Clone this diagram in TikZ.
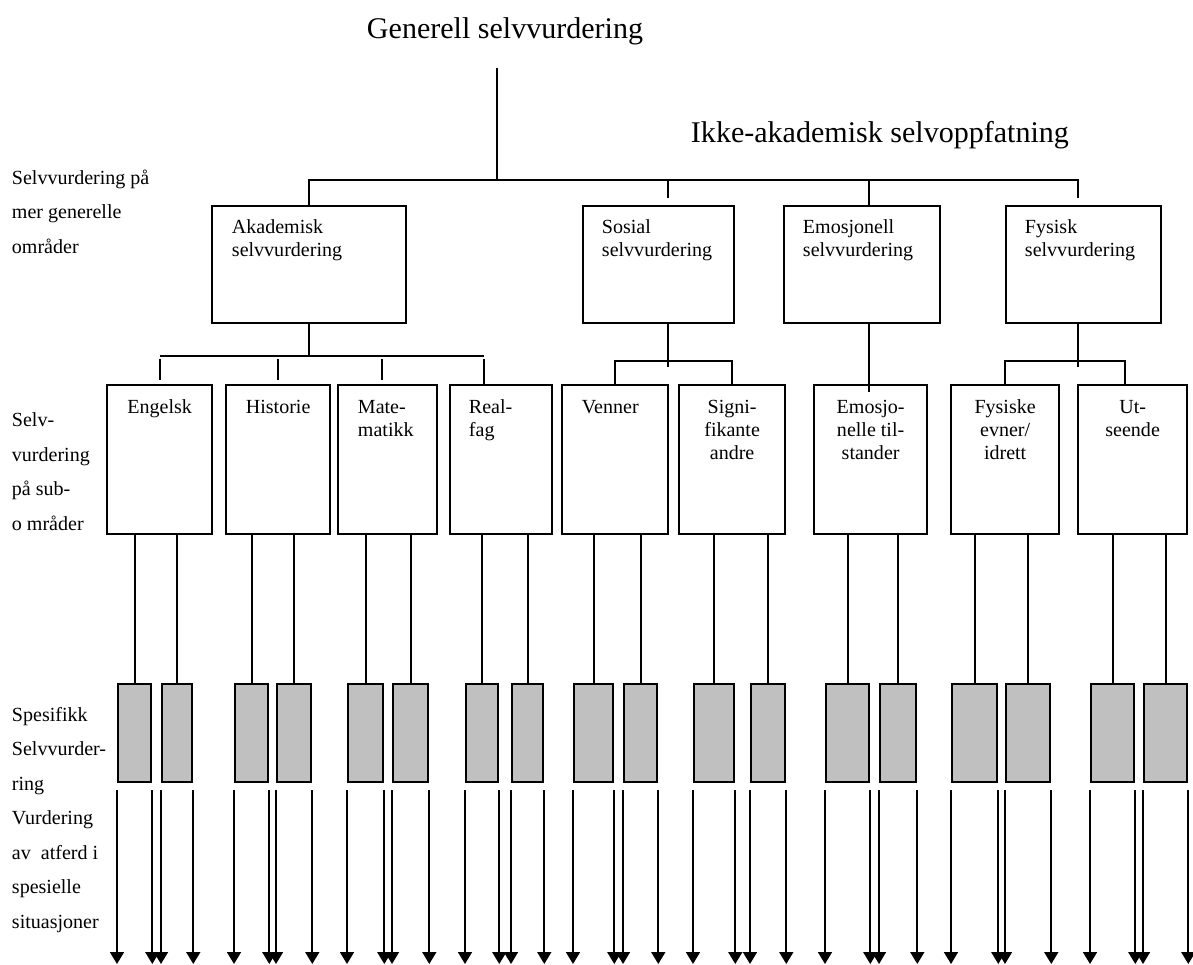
\documentclass[tikz,border=0pt]{standalone}
\usepackage{fontspec}
\setmainfont{Liberation Serif}
\usetikzlibrary{arrows.meta}
\definecolor{cgrey}{HTML}{C0C0C0}
\tikzset{
  every picture/.style={line width=1.1pt},
  box/.style={draw, line width=1.3pt, inner sep=0pt, anchor=north west},
  mainbox/.style={box, minimum height=2.34cm},
  subbox/.style={box, minimum height=2.98cm},
  specbox/.style={box, fill=cgrey, minimum height=1.96cm},
  intxt/.style={font=\fontsize{11.4pt}{13.3pt}\selectfont, inner sep=0pt, align=left, anchor=base west},
  midtxt/.style={intxt, align=center, anchor=base},
  side/.style={font=\fontsize{11.4pt}{19.6pt}\selectfont, inner sep=0pt, align=left, anchor=base west},
  title/.style={font=\fontsize{17.1pt}{20pt}\selectfont, inner sep=0pt, anchor=base west},
  arrow/.style={-{Triangle[width=0.28cm, length=0.24cm]}, line width=1pt},
}
\begin{document}
\begin{tikzpicture}[x=0.02cm, y=-0.02cm]
  \useasboundingbox (0,0) rectangle (1193,964);
  \node[title] (gen) at (366,38) {Generell selvvurdering};
  \node[title] (ikke) at (690,142) {Ikke-akademisk selvoppfatning};
  % labels on the left (placed at the last baseline)
  \node[side] (lab1) at (11,253) {Selvvurdering på\\mer generelle\\områder};
  \node[side] (lab2) at (11,530) {Selv-\\vurdering\\på sub-\\o mråder};
  \node[side] (lab3) at (11,928) {Spesifikk\\Selvvurder-\\ring\\Vurdering\\av\ \ atferd i\\spesielle\\situasjoner};
  % general areas
  \node[mainbox, minimum width=3.88cm] (aka) at (211,205) {};
  \node[mainbox, minimum width=3.02cm] (sos) at (582,205) {};
  \node[mainbox, minimum width=3.12cm] (emo) at (783,205) {};
  \node[mainbox, minimum width=3.10cm] (fys) at (1005,205) {};
  \node[intxt] (aka-t) at ([xshift=0.4cm, yshift=-1.04cm]aka.north west) {Akademisk\\selvvurdering};
  \node[intxt] (sos-t) at ([xshift=0.38cm, yshift=-1.04cm]sos.north west) {Sosial\\selvvurdering};
  \node[intxt] (emo-t) at ([xshift=0.38cm, yshift=-1.04cm]emo.north west) {Emosjonell\\selvvurdering};
  \node[intxt] (fys-t) at ([xshift=0.38cm, yshift=-1.04cm]fys.north west) {Fysisk\\selvvurdering};
  % sub areas
  \node[subbox, minimum width=2.10cm] (eng) at (106,384) {};
  \node[subbox, minimum width=2.08cm] (his) at (225,384) {};
  \node[subbox, minimum width=1.98cm] (mat) at (337,384) {};
  \node[subbox, minimum width=2.04cm] (rea) at (449,384) {};
  \node[subbox, minimum width=2.12cm] (ven) at (561,384) {};
  \node[subbox, minimum width=2.12cm] (sig) at (678,384) {};
  \node[subbox, minimum width=2.26cm] (emt) at (813,384) {};
  \node[subbox, minimum width=2.16cm] (fev) at (950,384) {};
  \node[subbox, minimum width=2.18cm] (ut) at (1077,384) {};
  \node[midtxt] (eng-t) at ([yshift=-0.58cm]eng.north) {Engelsk};
  \node[midtxt] (his-t) at ([yshift=-0.58cm]his.north) {Historie};
  \node[intxt] (mat-t) at ([xshift=0.4cm, yshift=-1.05cm]mat.north west) {Mate-\\matikk};
  \node[intxt] (rea-t) at ([xshift=0.38cm, yshift=-1.05cm]rea.north west) {Real-\\fag};
  \node[intxt] (ven-t) at ([xshift=0.4cm, yshift=-0.58cm]ven.north west) {Venner};
  \node[midtxt] (sig-t) at ([yshift=-1.52cm]sig.north) {Signi-\\fikante\\andre};
  \node[midtxt] (emt-t) at ([yshift=-1.52cm]emt.north) {Emosjo-\\nelle til-\\stander};
  \node[midtxt] (fev-t) at ([yshift=-1.52cm]fev.north) {Fysiske\\evner/\\idrett};
  \node[midtxt] (ut-t) at ([yshift=-1.05cm]ut.north) {Ut-\\seende};
  % specific self-assessment
  \foreach \x/\w [count=\i] in {117/33,161/30,234/33,276/34,347/35,392/35,465/32,511/31,573/39,
                                623/33,693/40,750/34,825/43,879/36,951/45,1005/44,1090/43,1143/43}
    \node[specbox, minimum width=\w*0.02cm] (s\i) at (\x,683) {};
  % tree lines
  \coordinate (hub) at (497,180);
  \coordinate (bot) at (0,964);
  \draw (hub) -- ++(0,-112);
  \draw (aka.north) |- (hub) -| ([xshift=-0.11cm, yshift=0.14cm]fys.north);
  \draw ([xshift=0.19cm, yshift=0.14cm]sos.north) -- ++(0,-18);
  \draw ([xshift=0.14cm]emo.north) -- ++(0,-25);
  \draw (aka.south) -- ++(0,32) coordinate (akj);
  \draw (eng.north |- akj) -- ([xshift=-0.34cm]rea.north |- akj);
  \foreach \n/\dx in {eng/0, his/0, mat/-0.11}
    \draw ([xshift=\dx cm, yshift=0.08cm]\n.north) -- ++(0,-21);
  \draw ([xshift=-0.34cm]rea.north) -- ++(0,-25);
  \draw ([xshift=0.19cm]sos.south) -- ++(0,43);
  \draw (ven.north) -- ++(0,-23) -| (sig.north);
  \draw ([xshift=0.14cm]emo.south) -- ++(0,68);
  \draw ([xshift=-0.11cm]fys.south) -- ++(0,43);
  \draw (fev.north) -- ++(0,-23) -| ([xshift=-0.15cm]ut.north);
  \foreach \i/\n in {1/eng,2/eng,3/his,4/his,5/mat,6/mat,7/rea,8/rea,9/ven,
                     10/ven,11/sig,12/sig,13/emt,14/emt,15/fev,16/fev,17/ut,18/ut}
    \draw (s\i.north) -- (s\i.north |- \n.south);
  % arrows to behaviour
  \foreach \i in {1,...,18} {
    \draw[arrow] ([yshift=-0.14cm]s\i.south west) -- (s\i.south west |- bot);
    \draw[arrow] ([yshift=-0.14cm]s\i.south east) -- (s\i.south east |- bot);
  }
\end{tikzpicture}
\end{document}
